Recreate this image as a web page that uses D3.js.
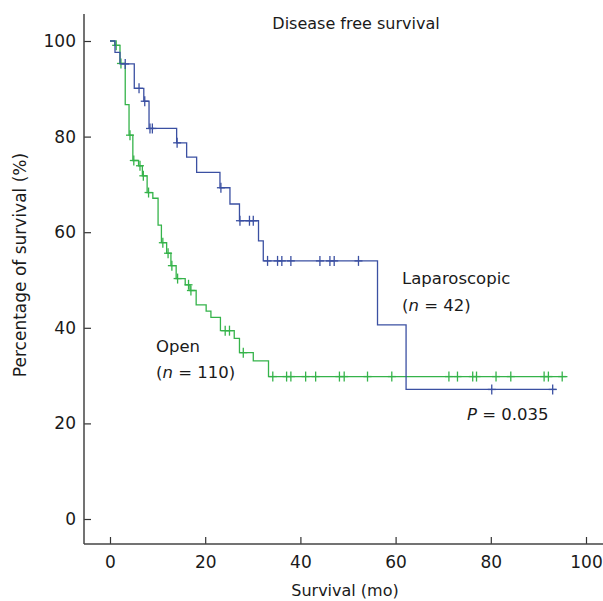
<!DOCTYPE html>
<html>
<head>
<meta charset="utf-8">
<script src="https://cdn.jsdelivr.net/npm/d3@7"></script>
<style>
  body { margin: 0; background: #fff; }
  svg text { font-family: "DejaVu Sans", sans-serif; fill: #1a1a1a; }
</style>
</head>
<body>
<div id="chart"></div>
<script>
// Kaplan-Meier steps (months, % surviving)
var lapTimes = [0, 1.05, 2.1, 5.1, 7.1, 8.2, 14.0, 16.1, 18.2, 23.1, 25.2, 27.2, 31.2, 32.2, 56.2, 62.2];
var lapSurv  = [100, 97.6, 95.2, 90.1, 87.4, 81.7, 78.7, 75.7, 72.5, 69.3, 65.9, 62.4, 58.2, 54.0, 40.6, 27.1];
var lapEnd = 93.8;
var lapCensor = [3.2, 6.1, 7.3, 8.4, 8.9, 14.1, 23.3, 27.3, 29.3, 30.1, 33.1, 35.2, 36.1, 38.0, 44.1, 46.2, 47.1, 52.2, 80.2, 93.0];

var openTimes = [0, 1.0, 2.1, 3.2, 4.0, 4.8, 6.0, 6.8, 7.8, 9.0, 10.1, 10.8, 11.9, 12.8, 13.9, 15.8, 16.8, 18.1, 20.2, 21.2, 23.2, 26.1, 27.2, 30.1, 33.3];
var openSurv  = [100, 99.1, 95.3, 86.7, 80.3, 75.0, 73.9, 71.8, 68.3, 67.1, 61.5, 57.8, 55.6, 53.0, 50.3, 49.0, 47.8, 44.8, 43.5, 42.2, 39.4, 37.8, 34.8, 33.1, 29.8];
var openEnd = 96.1;
var openCensor = [1.3, 2.3, 4.2, 5.0, 6.3, 7.0, 8.1, 11.1, 12.2, 13.0, 14.2, 16.5, 17.0, 24.2, 25.1, 28.0,
  34.2, 37.1, 38.0, 41.1, 43.2, 48.2, 49.2, 54.1, 59.2, 71.2, 73.0, 76.2, 77.0, 81.1, 84.2, 91.2, 92.1, 95.0];

var xTicks = [0, 20, 40, 60, 80, 100];
var yTicks = [0, 20, 40, 60, 80, 100];

var blue = "#3b50a2";
var green = "#35b34a";

var width = 603;
var height = 601;

var svg = d3.select("#chart")
  .append("svg")
  .attr("width", width)
  .attr("height", height);

var x = d3.scaleLinear().domain([0, 100]).range([110, 586]);
var y = d3.scaleLinear().domain([0, 100]).range([519, 41]);

var axisY0 = 544;   // x axis baseline
var axisX0 = 84;    // y axis line

// axes
var xAxis = svg.append("g")
  .attr("transform", "translate(0," + axisY0 + ")")
  .call(d3.axisBottom(x).tickValues(xTicks).tickSizeInner(-7).tickSizeOuter(0).tickPadding(12));
var yAxis = svg.append("g")
  .attr("transform", "translate(" + axisX0 + ",0)")
  .call(d3.axisLeft(y).tickValues(yTicks).tickSizeInner(-7).tickSizeOuter(0).tickPadding(8));

[xAxis, yAxis].forEach(function (g) {
  g.select(".domain").remove();
  g.selectAll("line").attr("stroke", "#333").attr("stroke-width", 1.2);
  g.selectAll("text").attr("font-size", "17px").attr("font-family", "DejaVu Sans, sans-serif").attr("fill", "#1a1a1a");
});

svg.append("line")
  .attr("x1", axisX0).attr("x2", width)
  .attr("y1", axisY0).attr("y2", axisY0)
  .attr("stroke", "#444").attr("stroke-width", 1.5);
svg.append("line")
  .attr("x1", axisX0).attr("x2", axisX0)
  .attr("y1", 14).attr("y2", axisY0)
  .attr("stroke", "#444").attr("stroke-width", 1.5);

// survival curves
function stepPoints(times, surv, end) {
  var pts = times.map((t, i) => [t, surv[i]]);
  pts.push([end, surv[surv.length - 1]]);
  return pts;
}

function survAt(times, surv, t) {
  var idx = 0;
  times.forEach(function (tt, i) { if (tt <= t) idx = i; });
  return surv[idx];
}

var line = d3.line()
  .x(d => x(d[0]))
  .y(d => y(d[1]))
  .curve(d3.curveStepAfter);

var groups = [
  { times: openTimes, surv: openSurv, end: openEnd, censor: openCensor, color: green },
  { times: lapTimes, surv: lapSurv, end: lapEnd, censor: lapCensor, color: blue }
];

groups.forEach(function (g) {
  svg.append("path")
    .datum(stepPoints(g.times, g.surv, g.end))
    .attr("d", line)
    .attr("fill", "none")
    .attr("stroke", g.color)
    .attr("stroke-width", 1.3);

  var marks = svg.append("g").selectAll("g")
    .data(g.censor)
    .enter()
    .append("g")
    .attr("transform", d => "translate(" + x(d) + "," + y(survAt(g.times, g.surv, d)) + ")");
  marks.append("line")
    .attr("x1", 0).attr("x2", 0).attr("y1", -5).attr("y2", 5)
    .attr("stroke", g.color).attr("stroke-width", 1.3);
  marks.append("line")
    .attr("x1", -4).attr("x2", 4).attr("y1", 0).attr("y2", 0)
    .attr("stroke", g.color).attr("stroke-width", 1.3);
});

// titles and labels
svg.append("text")
  .attr("x", 356).attr("y", 29)
  .attr("text-anchor", "middle")
  .attr("font-size", "16px")
  .text("Disease free survival");

svg.append("text")
  .attr("x", 345).attr("y", 596)
  .attr("text-anchor", "middle")
  .attr("font-size", "16px")
  .text("Survival (mo)");

svg.append("text")
  .attr("transform", "translate(26,265) rotate(-90)")
  .attr("text-anchor", "middle")
  .attr("font-size", "17px")
  .text("Percentage of survival (%)");

function label(xp, yp, parts) {
  var t = svg.append("text")
    .attr("x", xp).attr("y", yp)
    .attr("font-size", "16.5px");
  parts.forEach(function (p) {
    t.append("tspan")
      .attr("font-style", p[1] ? "italic" : "normal")
      .text(p[0]);
  });
}

label(402, 284, [["Laparoscopic", false]]);
label(402, 311, [["(", false], ["n", true], [" = 42)", false]]);
label(156, 352, [["Open", false]]);
label(156, 378, [["(", false], ["n", true], [" = 110)", false]]);
label(467, 420, [["P", true], [" = 0.035", false]]);
</script>
</body>
</html>
